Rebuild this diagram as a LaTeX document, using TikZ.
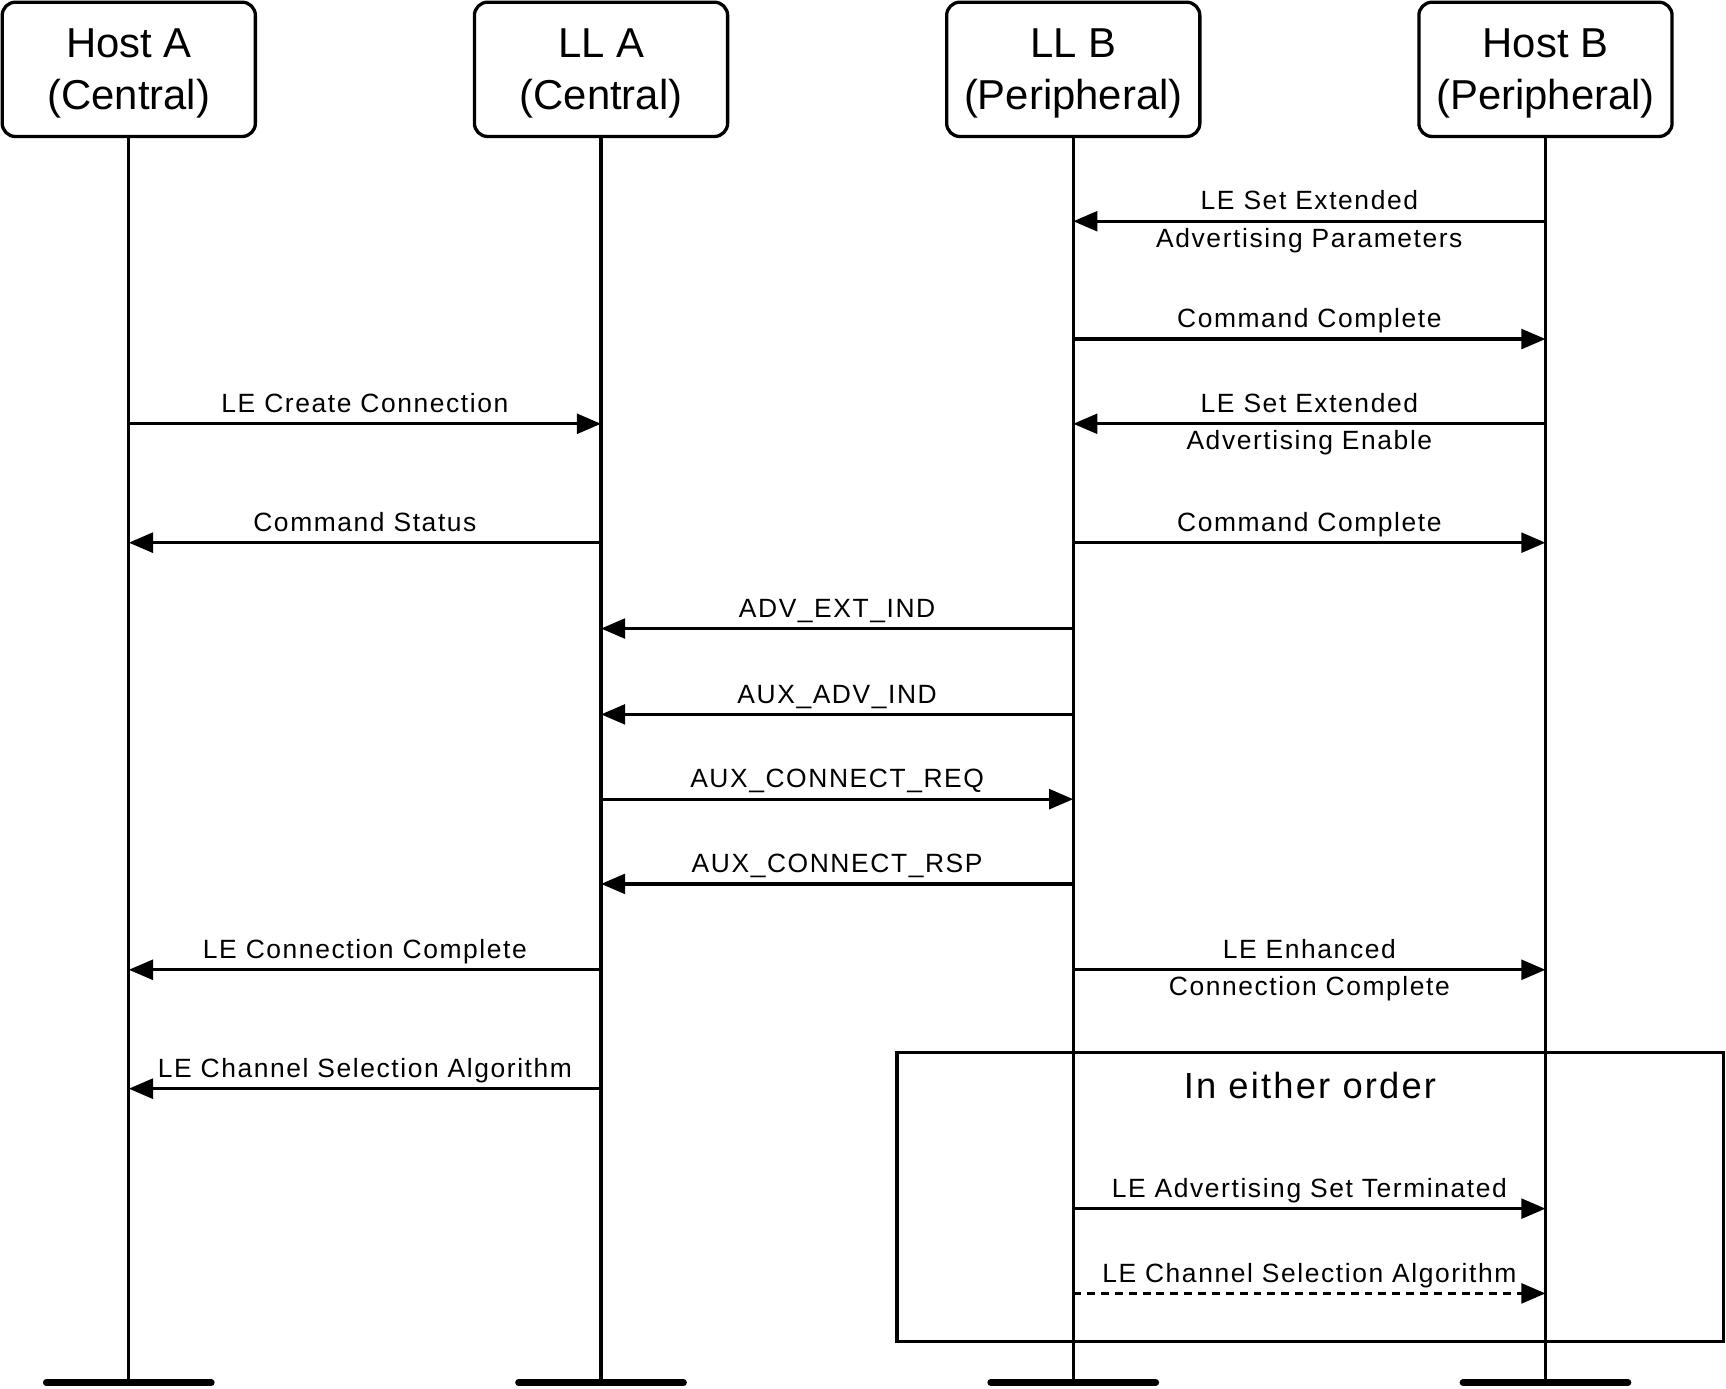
\documentclass[tikz,border=0pt]{standalone}
\usepackage{fontspec}
\setmainfont{Liberation Sans}
\newfontfamily\etiqfont[LetterSpace=6]{Liberation Sans}
\usetikzlibrary{arrows.meta}

\tikzset{boite/.style = {draw, rounded corners=6pt, line width=1.5pt,
                         minimum width=115pt, minimum height=61pt, align=center,
                         text depth=0pt, font=\fontsize{19}{23.5}\selectfont},
         vie/.style = {line width=1.5pt},
         msg/.style = {line width=1.5pt, -{Triangle[length=11pt,width=9pt]}},
         etiq/.style = {font=\etiqfont\fontsize{12}{17}\selectfont, inner sep=0pt,
                        text height=8.8pt, text depth=2.4pt},
         etiq2/.style = {font=\etiqfont\fontsize{12}{17}\selectfont, inner sep=0pt,
                         align=center, yshift=-0.2pt}
        }

\begin{document}
\begin{tikzpicture}[x=0.5pt, y=-0.5pt]
  \useasboundingbox (0,0) rectangle (1568,1261);
  \foreach \n/\x/\txt in {hosta/117/Host A\\(Central), lla/546/LL A\\(Central),
                          llb/975/LL B\\(Peripheral), hostb/1404/Host B\\(Peripheral)} {
    \node[boite] (\n) at (\x,63) {\txt};
    \coordinate (\n-bas) at (\x,1256);
    \draw[vie] (\n) -- (\n-bas);
    \draw[line width=3pt, line cap=round] ([xshift=-37.5pt]\n-bas) -- ([xshift=37.5pt]\n-bas);
  }
  \foreach \a/\b/\y/\txt in {llb/hostb/308/Command Complete, hosta/lla/385/LE Create Connection,
                             lla/hosta/493/Command Status, llb/hostb/493/Command Complete,
                             llb/lla/571/ADV\_EXT\_IND, llb/lla/649/AUX\_ADV\_IND,
                             lla/llb/726/AUX\_CONNECT\_REQ, llb/lla/803/AUX\_CONNECT\_RSP,
                             lla/hosta/881/LE Connection Complete,
                             lla/hosta/989/LE Channel Selection Algorithm,
                             llb/hostb/1098/LE Advertising Set Terminated}
      {\draw[msg] (\a |- 0,\y) -- (\b |- 0,\y) node[etiq, midway, above=2pt] {\txt};};
  \foreach \a/\b/\y/\txt in {hostb/llb/201/LE Set Extended\\Advertising Parameters,
                             hostb/llb/385/LE Set Extended\\Advertising Enable,
                             llb/hostb/881/LE Enhanced\\Connection Complete}
      {\draw[msg] (\a |- 0,\y) -- (\b |- 0,\y) node[etiq2, midway] {\txt};};
  \draw[msg, dash pattern=on 3.6pt off 2.7pt] (llb |- 0,1175) -- (hostb |- 0,1175)
      node[etiq, midway, above=2pt] {LE Channel Selection Algorithm};
  \draw[line width=1.5pt] (815,956) rectangle (1566,1219);
  \node[font=\etiqfont\fontsize{16.5}{20}\selectfont] (ordre) at (1190,986) {In either order};
\end{tikzpicture}
\end{document}
